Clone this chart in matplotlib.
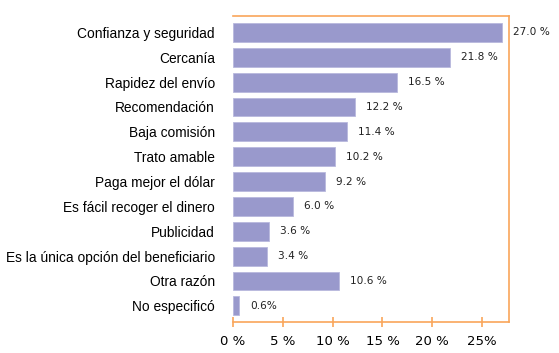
import matplotlib
matplotlib.use("Agg")
import matplotlib.pyplot as plt

categories = ["Confianza y seguridad", "Cercanía", "Rapidez del envío", "Recomendación",
              "Baja comisión", "Trato amable", "Paga mejor el dólar",
              "Es fácil recoger el dinero", "Publicidad",
              "Es la única opción del beneficiario", "Otra razón", "No especificó"]
values = [27.0, 21.8, 16.5, 12.2, 11.4, 10.2, 9.2, 6.0, 3.6, 3.4, 10.6, 0.6]
value_labels = ["27.0 %", "21.8 %", "16.5 %", "12.2 %", "11.4 %", "10.2 %", "9.2 %",
                "6.0 %", "3.6 %", "3.4 %", "10.6 %", "0.6%"]
xticks = [0, 5, 10, 15, 20, 25]
xtick_labels = ["0 %", "5 %", "10 %", "15 %", "20 %", "25%"]

orange = "#F9A65A"
bar_color = "#9999CC"

fig = plt.figure(figsize=(5.59, 3.53), dpi=100)
ax = fig.add_axes([0.4168, 0.0878, 0.4938, 0.8669])

y = list(range(len(categories)))
ax.barh(y, values, height=0.76, color=bar_color, edgecolor="#B8B8DD", linewidth=0.6)
for yi, v, lab in zip(y, values, value_labels):
    ax.text(v + 1.1, yi, lab, va="center", ha="left", fontsize=7.6,
            family="DejaVu Sans", color="#222222")

ax.set_xlim(0, 27.7)
ax.set_ylim(11.65, -0.66)
ax.set_yticks(y)
ax.set_yticklabels(categories, fontsize=9.9, family="Liberation Sans")
ax.tick_params(axis="y", length=0, pad=13)
ax.set_xticks(xticks)
ax.set_xticklabels(xtick_labels, fontsize=9.5, family="DejaVu Sans")
ax.tick_params(axis="x", direction="inout", length=7, color=orange, width=1.2, pad=6)

ax.spines["left"].set_visible(False)
for s in ["top", "right", "bottom"]:
    ax.spines[s].set_color(orange)
    ax.spines[s].set_linewidth(1.2)

fig.savefig("out.png", dpi=100)
